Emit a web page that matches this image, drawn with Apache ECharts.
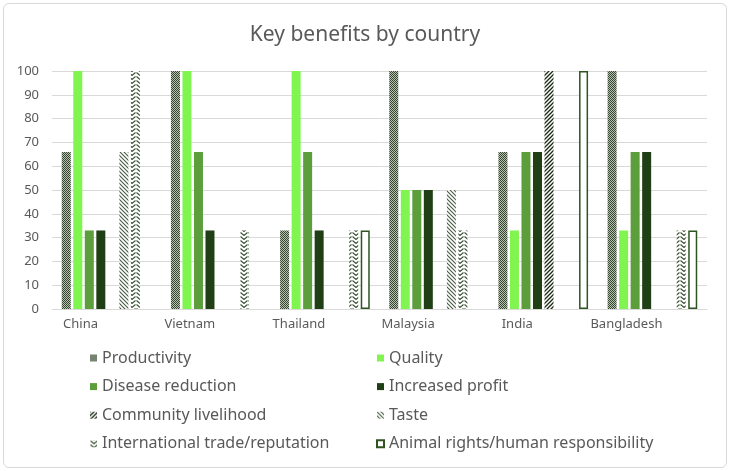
<!DOCTYPE html>
<html>
<head>
<meta charset="utf-8">
<script src="https://cdn.jsdelivr.net/npm/echarts@6/dist/echarts.min.js"></script>
<style>
  html, body { margin: 0; padding: 0; background: #fff; }
  #frame { position: absolute; left: 3px; top: 3px; width: 722px; height: 463px; border: 1px solid #d9d9d9; border-radius: 6px; }
  #chart { position: absolute; left: 0; top: 0; width: 730px; height: 471px; }
</style>
</head>
<body>
<div id="frame"></div>
<div id="chart"></div>
<script>
const categories = ['China', 'Vietnam', 'Thailand', 'Malaysia', 'India', 'Bangladesh'];
const productivity = [66, 100, 33, 100, 66, 100];
const quality = [100, 100, 100, 50, 33, 33];
const diseaseReduction = [33, 66, 66, 50, 66, 66];
const increasedProfit = [33, 33, 33, 50, 66, 66];
const communityLivelihood = [0, 0, 0, 0, 100, 0];
const taste = [66, 0, 0, 50, 0, 0];
const internationalTrade = [100, 33, 33, 33, 0, 33];
const animalRights = [0, 0, 33, 0, 100, 33];
const yMin = 0, yMax = 100, yStep = 10;

function pat(w, h, draw) {
  const c = document.createElement('canvas');
  c.width = w; c.height = h;
  const g = c.getContext('2d');
  g.fillStyle = '#fff'; g.fillRect(0, 0, w, h);
  draw(g);
  return { image: c, repeat: 'repeat' };
}
const checker = pat(2, 2, g => {
  g.fillStyle = '#b9c1b3'; g.fillRect(0, 0, 2, 2);
  g.fillStyle = '#34452e'; g.fillRect(0, 0, 1, 1); g.fillRect(1, 1, 1, 1);
});
const fwdDiag = pat(4, 4, g => {
  g.strokeStyle = '#1a2a14'; g.lineWidth = 1.3;
  g.beginPath(); g.moveTo(-1, 5); g.lineTo(5, -1); g.stroke();
  g.beginPath(); g.moveTo(-1, 1); g.lineTo(1, -1); g.stroke();
  g.beginPath(); g.moveTo(3, 5); g.lineTo(5, 3); g.stroke();
});
const backDiag = pat(4, 4, g => {
  g.strokeStyle = '#46573f'; g.lineWidth = 1.1;
  g.beginPath(); g.moveTo(-1, -1); g.lineTo(5, 5); g.stroke();
  g.beginPath(); g.moveTo(3, -1); g.lineTo(5, 1); g.stroke();
  g.beginPath(); g.moveTo(-1, 3); g.lineTo(1, 5); g.stroke();
});
const chevron = pat(8, 4, g => {
  g.strokeStyle = '#3a5233'; g.lineWidth = 1.1;
  g.beginPath(); g.moveTo(0.5, 0.5); g.lineTo(4, 3.5); g.lineTo(7.5, 0.5); g.stroke();
});

const nz = arr => arr.map(v => (v === 0 ? null : v));
const font = 'Noto Sans, sans-serif';
const txt = '#595959';

function bar(name, data, itemStyle) {
  return { name, type: 'bar', data: nz(data), barWidth: 9, barGap: '28%', itemStyle };
}

const legendBase = {
  orient: 'vertical', top: 345, itemGap: 12.6, itemWidth: 7, itemHeight: 7, icon: 'rect',
  textStyle: { fontSize: 16, color: txt, fontFamily: font }
};

const chart = echarts.init(document.getElementById('chart'), null, { renderer: 'canvas' });
chart.setOption({
  animation: false,
  textStyle: { fontFamily: font },
  title: {
    text: 'Key benefits by country', left: 'center', top: 20,
    textStyle: { fontSize: 21, fontWeight: 'normal', color: txt, fontFamily: font }
  },
  grid: { left: 52, right: 23, top: 71, bottom: 162 },
  legend: [
    Object.assign({}, legendBase, {
      left: 85,
      data: ['Productivity', 'Disease reduction', 'Community livelihood', 'International trade/reputation']
    }),
    Object.assign({}, legendBase, {
      left: 371,
      data: ['Quality', 'Increased profit', 'Taste', 'Animal rights/human responsibility']
    })
  ],
  xAxis: {
    type: 'category', data: categories,
    axisLine: { lineStyle: { color: '#d9d9d9' } },
    axisTick: { show: false },
    axisLabel: { color: txt, fontSize: 13, margin: 9, padding: [0, 52, 0, 0], fontFamily: font }
  },
  yAxis: {
    type: 'value', min: yMin, max: yMax, interval: yStep,
    axisLine: { show: false }, axisTick: { show: false },
    axisLabel: { color: txt, fontSize: 13, margin: 13, fontFamily: font },
    splitLine: { lineStyle: { color: '#d9d9d9' } }
  },
  series: [
    bar('Productivity', productivity, { color: checker }),
    bar('Quality', quality, { color: '#80f550' }),
    bar('Disease reduction', diseaseReduction, { color: '#5b9e3b' }),
    bar('Increased profit', increasedProfit, { color: '#213f15' }),
    bar('Community livelihood', communityLivelihood, { color: fwdDiag }),
    bar('Taste', taste, { color: backDiag }),
    bar('International trade/reputation', internationalTrade, { color: chevron }),
    bar('Animal rights/human responsibility', animalRights, { color: '#ffffff', borderColor: '#2e5422', borderWidth: 1.5 })
  ]
});
</script>
</body>
</html>
